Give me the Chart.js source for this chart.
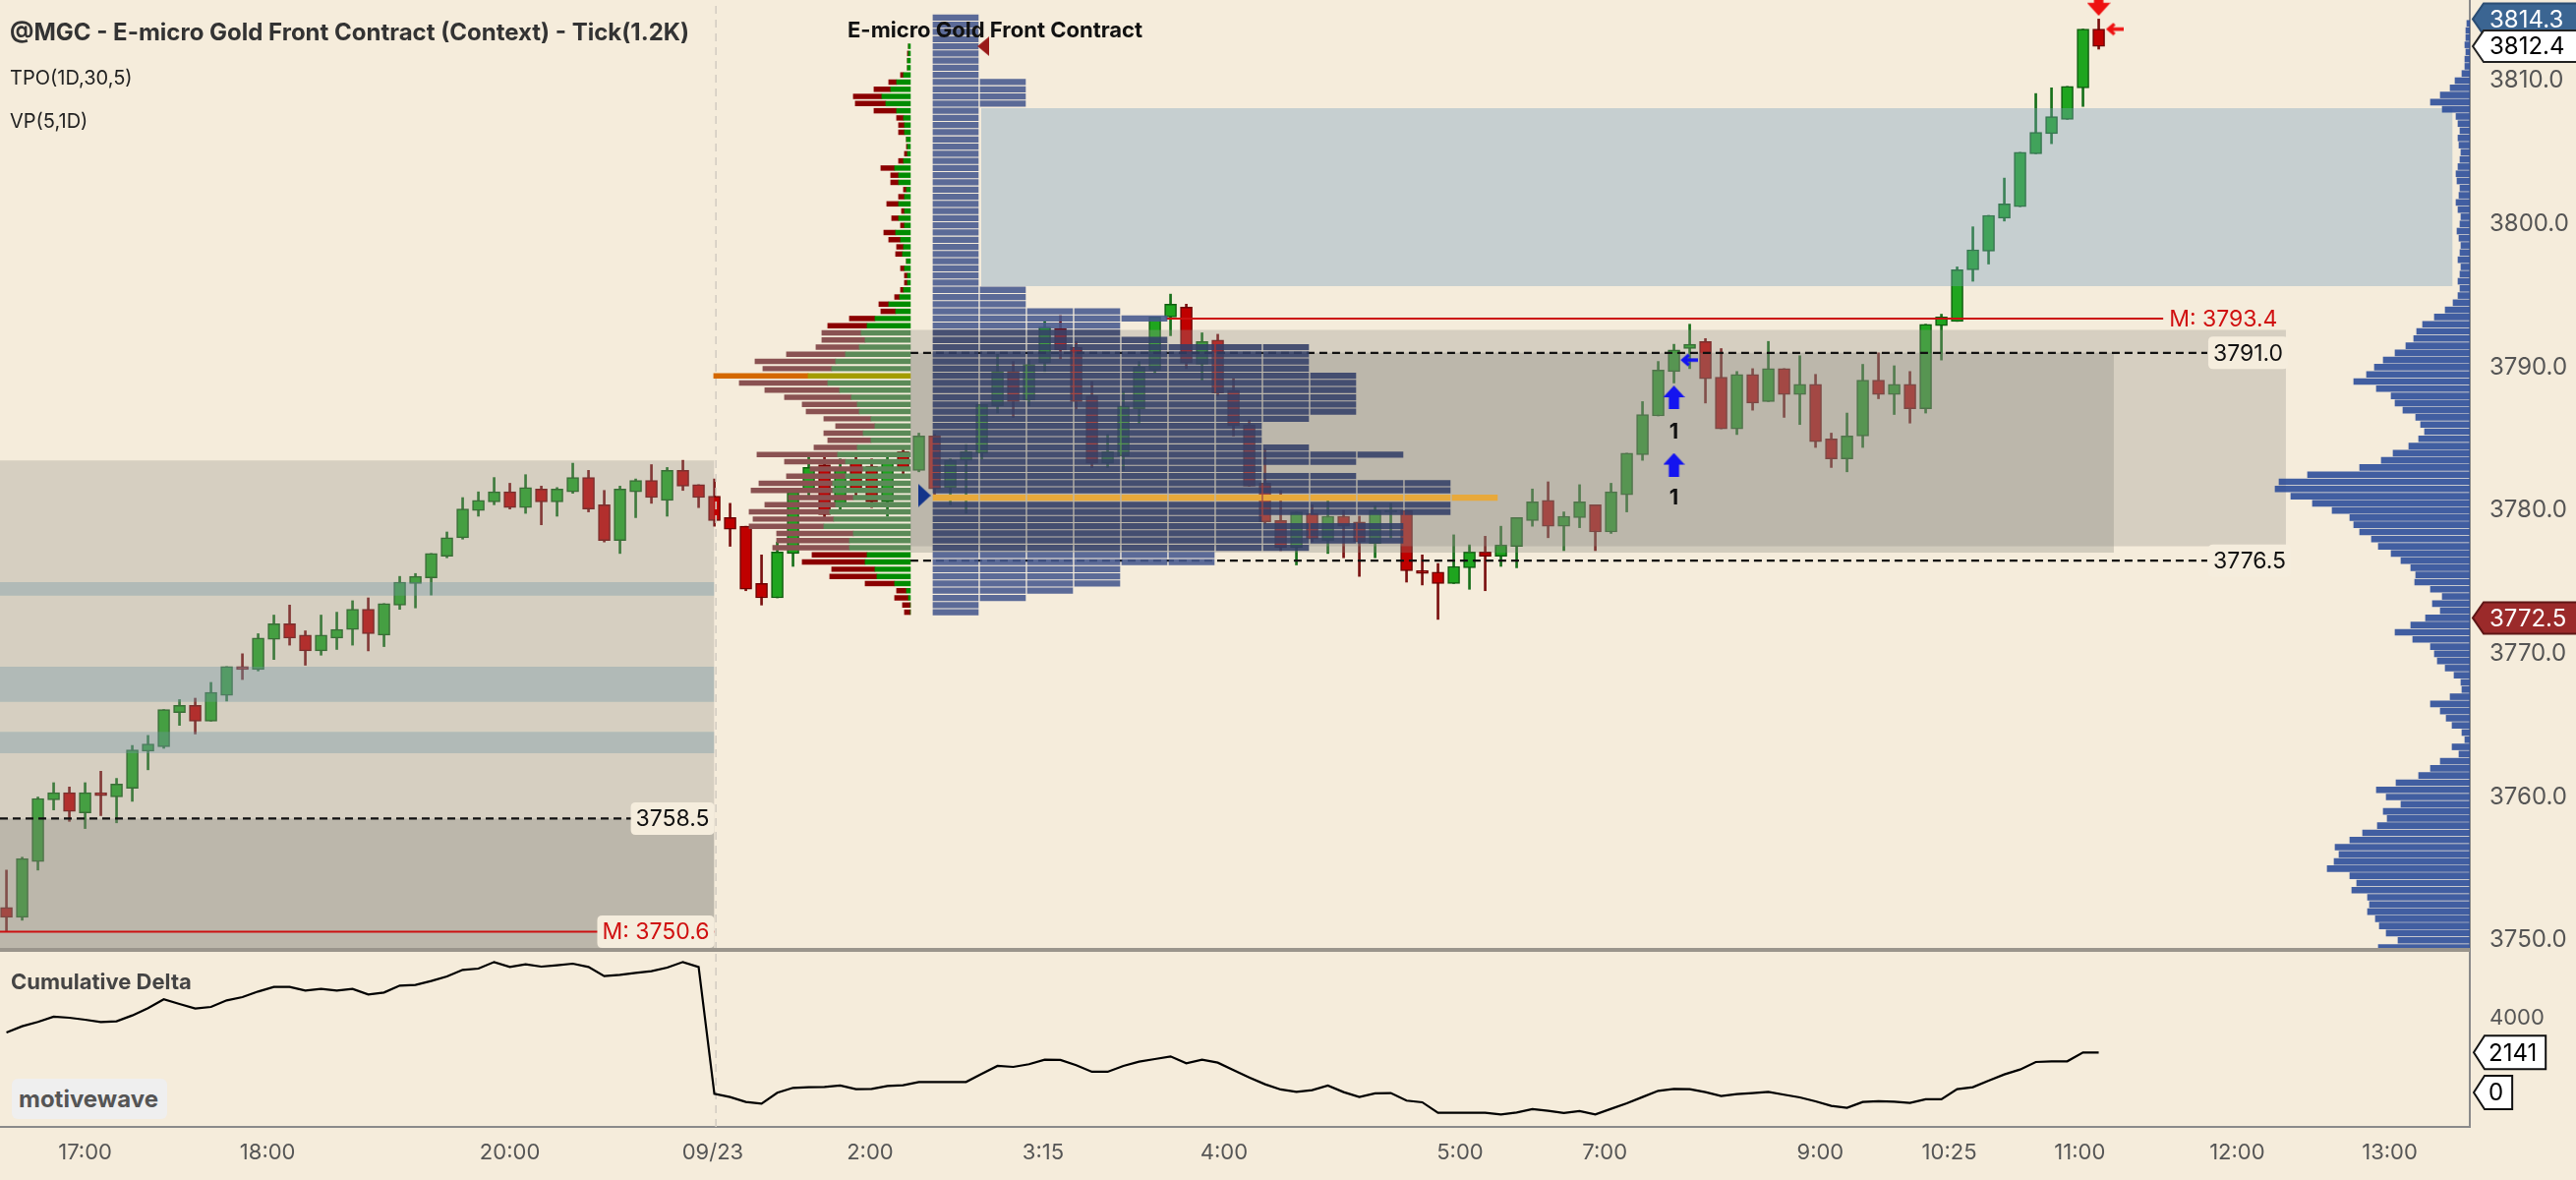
<!DOCTYPE html>
<html>
<head>
<meta charset="utf-8">
<title>@MGC - E-micro Gold Front Contract (Context) - Tick(1.2K)</title>
<script src="https://cdn.jsdelivr.net/npm/chart.js@4.4.1/dist/chart.umd.min.js"></script>
<style>
  html, body { margin:0; padding:0; }
  body { width:2620px; height:1200px; background:#f5ecdb; position:relative; overflow:hidden; font-family: Inter, "Noto Sans", sans-serif; }
  canvas { position:absolute; left:0; display:block; }
  #mainCanvas { top:0; }
  #deltaCanvas { top:966px; }
  .lbl { position:absolute; white-space:nowrap; line-height:1; }
  #title { left:10px; top:21px; font-size:24px; font-weight:700; color:#333; }
  #tpo { left:10px; top:69px; font-size:20px; color:#222; }
  #vp { left:10px; top:113px; font-size:20px; color:#222; }
  #inst { left:862px; top:19px; font-size:22px; font-weight:700; color:#111; }
  #cd { left:11px; top:987px; font-size:22px; font-weight:700; color:#444; }
  #mw { left:12px; top:1097px; width:158px; height:41px; background:#efefef; border-radius:6px; font-size:24px; font-weight:700; color:#555; display:flex; align-items:center; padding-left:7px; box-sizing:border-box; }
</style>
</head>
<body>
<canvas id="mainCanvas" width="2620" height="966"></canvas>
<canvas id="deltaCanvas" width="2620" height="234"></canvas>
<div class="lbl" id="title">@MGC - E-micro Gold Front Contract (Context) - Tick(1.2K)</div>
<div class="lbl" id="tpo">TPO(1D,30,5)</div>
<div class="lbl" id="vp">VP(5,1D)</div>
<div class="lbl" id="inst">E-micro Gold Front Contract</div>
<div class="lbl" id="cd">Cumulative Delta</div>
<div class="lbl" id="mw">motivewave</div>
<script>
// ===================== DATA =====================
const openP = [
3752.3,3751.6,3755.5,3759.8,3760.3,3758.9,3760.3,3760.0,3760.6,3763.2,
3763.5,3765.9,3766.4,3765.3,3767.1,3769.1,3768.9,3771.0,3772.1,3771.3,
3770.2,3771.1,3771.7,3773.1,3771.3,3773.4,3774.9,3775.3,3776.8,3778.1,
3780.0,3780.6,3781.3,3780.2,3781.5,3780.6,3781.3,3782.3,3780.4,3777.9,
3781.3,3782.1,3780.7,3782.8,3781.8,3781.0,3779.5,3778.9,3774.9,3773.9,
3777.0,3781.5,3783.2,3780.5,3783.5,3783.1,3780.6,3784.1,3782.8,3785.2,
3781.6,3783.5,3784.0,3787.3,3789.7,3787.7,3790.3,3792.7,3791.4,3788.0,
3783.3,3783.8,3787.1,3789.8,3793.5,3794.2,3790.2,3791.9,3788.4,3786.0,
3781.9,3779.3,3777.4,3779.8,3777.9,3779.6,3779.2,3777.7,3779.9,3780.0,
3775.8,3775.7,3774.9,3776.0,3777.1,3776.8,3777.5,3779.3,3780.7,3778.9,
3779.5,3780.4,3778.5,3781.1,3783.9,3786.6,3789.7,3791.3,3791.8,3789.3,
3785.7,3789.5,3787.6,3789.9,3788.1,3788.8,3785.0,3783.6,3785.2,3789.1,
3788.1,3788.8,3787.1,3792.9,3793.2,3796.8,3798.1,3800.4,3801.2,3804.9,
3806.3,3807.3,3809.5,3813.6];
const highP = [
3754.9,3755.8,3760.0,3761.0,3760.7,3761.0,3761.8,3761.3,3763.6,3764.3,
3766.1,3766.8,3766.9,3768.0,3769.1,3770.0,3771.4,3772.7,3773.4,3771.6,
3772.7,3772.9,3773.7,3773.9,3773.5,3775.4,3775.6,3777.0,3778.5,3780.9,
3781.3,3782.3,3781.9,3782.5,3781.7,3781.6,3783.3,3782.8,3781.4,3781.7,
3782.2,3783.2,3783.0,3783.5,3781.8,3782.2,3780.5,3778.9,3776.9,3777.8,
3781.5,3784.0,3783.8,3783.6,3783.9,3783.6,3784.0,3784.3,3785.4,3785.3,
3783.6,3784.6,3787.4,3790.9,3790.4,3790.5,3793.2,3793.6,3791.8,3789.0,
3785.3,3788.3,3790.4,3793.5,3795.1,3794.4,3792.4,3792.3,3789.2,3786.3,
3784.3,3781.4,3779.9,3780.4,3780.8,3780.0,3779.6,3780.3,3780.5,3780.0,
3776.9,3776.3,3778.3,3777.6,3778.2,3778.9,3779.5,3781.5,3782.0,3779.9,
3781.8,3780.4,3781.9,3784.0,3787.6,3790.4,3791.6,3793.0,3792.0,3791.3,
3789.7,3789.9,3791.8,3789.9,3790.8,3789.5,3785.4,3786.8,3790.2,3791.0,
3790.1,3789.7,3793.0,3793.7,3797.0,3799.8,3800.6,3803.2,3805.0,3809.1,
3809.5,3809.6,3813.6,3814.3];
const lowP = [
3750.6,3751.4,3754.9,3759.1,3758.3,3757.8,3758.7,3758.2,3759.7,3761.9,
3763.4,3765.0,3764.4,3765.3,3766.7,3768.2,3768.8,3769.6,3770.6,3769.2,
3769.9,3770.3,3770.6,3770.2,3770.5,3773.1,3773.2,3774.1,3776.7,3778.0,
3779.6,3780.4,3780.1,3779.8,3779.0,3779.6,3781.2,3779.9,3777.8,3777.0,
3779.5,3780.5,3779.6,3781.4,3780.2,3778.9,3777.5,3774.4,3773.4,3773.9,
3776.1,3781.0,3779.3,3780.0,3780.8,3780.2,3779.6,3782.5,3782.7,3781.1,
3780.4,3779.8,3783.6,3786.8,3786.5,3787.3,3789.7,3790.6,3787.1,3783.0,
3783.0,3782.8,3786.1,3789.6,3792.2,3789.9,3789.1,3788.0,3785.2,3781.7,
3779.1,3777.2,3776.2,3777.8,3777.0,3776.7,3775.4,3776.7,3778.1,3775.0,
3774.8,3772.4,3774.9,3774.5,3774.4,3776.1,3776.0,3778.9,3778.1,3777.2,
3778.8,3777.2,3778.4,3779.9,3783.5,3786.6,3788.9,3789.9,3787.5,3785.7,
3785.3,3787.0,3787.6,3786.5,3786.0,3784.4,3783.0,3782.7,3784.4,3787.8,
3786.7,3786.1,3786.8,3790.5,3793.2,3796.0,3797.2,3800.2,3801.2,3804.9,
3805.6,3807.3,3808.2,3812.2];
const closeP = [
3751.6,3755.7,3759.9,3760.3,3759.0,3760.3,3760.1,3760.9,3763.3,3763.7,
3766.1,3766.4,3765.3,3767.3,3769.1,3768.9,3771.1,3772.1,3771.1,3770.2,
3771.3,3771.7,3773.1,3771.4,3773.5,3775.0,3775.4,3777.0,3778.1,3780.1,
3780.7,3781.3,3780.2,3781.6,3780.6,3781.5,3782.3,3780.1,3777.9,3781.5,
3782.1,3780.9,3782.8,3781.7,3780.9,3779.3,3778.7,3774.5,3773.9,3777.1,
3781.3,3783.0,3779.7,3783.0,3781.3,3780.6,3783.5,3783.0,3785.2,3781.5,
3783.5,3784.1,3787.4,3789.7,3787.6,3790.2,3792.8,3791.2,3787.6,3783.3,
3784.1,3787.3,3790.0,3793.5,3794.4,3790.3,3791.8,3788.2,3785.9,3781.7,
3779.2,3777.4,3779.9,3778.0,3779.6,3778.9,3777.8,3780.0,3780.0,3775.8,
3775.6,3774.9,3776.1,3777.1,3776.8,3777.6,3779.5,3780.6,3778.9,3779.6,
3780.6,3778.5,3781.3,3784.0,3786.7,3789.8,3791.2,3791.6,3789.2,3785.7,
3789.5,3787.5,3789.9,3788.1,3788.8,3784.8,3783.6,3785.2,3789.1,3788.1,
3788.8,3787.1,3793.0,3793.5,3796.8,3798.2,3800.6,3801.4,3805.0,3806.4,
3807.5,3809.6,3813.6,3812.4];
const cumDelta = [
3212,3545,3773,4054,4001,3896,3773,3808,4124,4510,
4984,4738,4492,4580,4931,5106,5404,5650,5650,5457,
5545,5457,5545,5247,5352,5720,5755,5966,6211,6562,
6632,6983,6720,6860,6737,6808,6895,6720,6229,6299,
6404,6492,6685,6983,6720,-68,-243,-506,-594,-15,
248,283,300,370,178,195,353,388,563,563,
563,563,1002,1423,1370,1511,1756,1739,1458,1107,
1107,1423,1651,1791,1932,1563,1756,1598,1195,809,
441,160,37,125,370,20,-243,-50,-33,-436,
-524,-1085,-1085,-1085,-1085,-1173,-1068,-893,-980,-1103,
-998,-1173,-875,-577,-243,90,195,178,20,-191,
-85,-33,37,-120,-261,-471,-717,-822,-506,-471,
-489,-559,-366,-366,178,283,633,967,1230,1633,
1668,1668,2141,2141];

const timeTickIdx = [5.0,16.6,32.0,44.9,54.9,65.9,77.4,92.4,101.6,115.3,123.5,131.8,141.8,151.5];
const timeTickLabels = ['17:00','18:00','20:00','09/23','2:00','3:15','4:00','5:00','7:00','9:00','10:25','11:00','12:00','13:00'];
const priceTicks = [3750,3760,3770,3780,3790,3800,3810];
const deltaTicks = [4000];

// session delta (buy/sell) volume profile, rows from dpStart every dpStep
const dpStart = 3772.9, dpStep = 0.5;
const dpBuy = [
0,0,2,4,16,34,36,46,44,62,
62,58,88,78,82,76,58,79,79,66,
48,66,74,54,40,48,36,40,52,54,
60,72,84,104,80,76,66,52,46,50,
44,36,15,22,11,7,3,3,6,4,
8,7,10,15,6,12,6,12,6,4,
12,12,16,7,3,3,4,6,6,7,
14,25,29,20,14,7,3,3,2,2];
const dpSell = [
6,8,14,10,30,48,44,64,56,78,
74,78,76,82,82,72,66,83,75,60,
54,62,82,44,44,40,40,48,54,56,
68,76,90,96,70,82,60,44,44,40,
40,26,15,10,5,3,3,3,4,0,
7,7,12,12,4,7,3,12,6,3,
8,8,14,5,3,1,0,6,6,7,
23,31,29,17,8,3,0,0,1,0];
const dpPOC = 3789.4;
const dpVA = [3777.4, 3792.4];

// TPO profile: number of 30-min periods per row
const tpoStart = 3772.9, tpoStep = 0.5;
const tpoCount = [
1,1,2,3,4,4,4,6,6,8,
10,10,10,7,11,11,12,11,11,9,
7,9,10,8,7,7,7,8,9,9,
9,9,9,9,8,8,8,8,5,4,
4,5,4,2,2,2,1,1,1,1,
1,1,1,1,1,1,1,1,1,1,
1,1,1,1,1,1,1,1,1,1,
1,2,2,2,2,1,1,1,1,1,
1,1,1,1];
const tpoPOC = 3780.9;
const tpoVA = [3777.4, 3792.4];

// multi-day volume profile on the right edge
const vpStart = 3749.5, vpStep = 0.5;
const vpVol = [
93,73,85,92,96,104,102,104,120,115,
122,145,138,133,137,122,109,94,84,88,
70,85,95,75,52,40,30,11,18,5,
8,18,24,30,40,20,8,9,16,25,
33,36,40,58,76,60,45,30,38,28,
40,56,55,60,70,80,93,100,112,118,
122,140,160,182,198,194,165,112,90,78,
62,52,46,50,55,68,76,80,95,118,
105,97,88,76,65,57,54,48,36,25,
17,12,10,12,10,9,12,10,9,11,
13,10,9,12,14,11,10,13,14,12,
10,9,11,12,10,12,14,28,40,30,
20,15,8,5,5,4,5,4,4,3];

// shaded zones (bar index range, price range)
const zoneX0   = [-0.41,-0.41,-0.41,-0.41,-0.41, 57.46, 57.46, 61.96];
const zoneX1   = [45.0, 45.0, 45.0, 45.0, 45.0, 144.9, 133.96, 155.5];
const zoneLow  = [3749.0,3749.0,3774.05,3766.65,3763.05,3777.5,3777.05,3795.65];
const zoneHigh = [3783.5,3758.5,3775.0,3769.1,3764.55,3792.6,3791.0,3808.08];
const zoneKind = ['va','ib','band','band','band','va','ib','hband'];

// horizontal levels
const levelPrice = [3758.5, 3750.6, 3791.0, 3776.5, 3793.4];
const levelText  = ['3758.5','M: 3750.6','3791.0','3776.5','M: 3793.4'];
const levelFrom  = [-0.41, -0.41, 57.46, 57.46, 73.7];
const levelTo    = [45.0, 45.0, 139.9, 139.9, 137.1];
const levelKind  = ['dash','mid','dash','dash','mid'];

// markers and signals
const sigX    = [106, 106, 106.95, 133, 134.0, 62.1, 58.35];
const sigY    = [3787.9, 3783.2, 3790.5, 3815.35, 3813.6, 3812.4, 3781.05];
const sigKind = ['blueUp','blueUp','blueLeft','redDown','redLeft','triLeft','triRight'];
const sigTextX = [106, 106];
const sigTextY = [3785.5, 3780.9];
const sigText  = ['1', '1'];

// right axis value tags
const axisTagVal  = [3814.3, 3812.4, 3772.5];
const axisTagKind = ['blue', 'white', 'red'];
const deltaTagVal = [2141, 0];

// ===================== CHART =====================
Chart.defaults.font.family = "Inter, 'Noto Sans', sans-serif";
Chart.defaults.animation = false;

const xMin = -0.41, xMax = 156.59;
const yMin = 3749.33, yMax = 3815.63;
const dMin = -1842, dMax = 7632;
const sessionBreak = 45.1;
const volToBars = 1 / 16;
const dpAnchor = 57.46, vpAnchor = 156.59;
const tpoX0 = 58.9, tpoColW = 2.875, tpoPitch = 3;

const up = i => closeP[i] >= openP[i];
const near = (a, b) => Math.abs(a - b) < 0.01;
const inRange = (p, r) => p >= r[0] - 0.01 && p <= r[1] + 0.01;

const wickData = openP.map((o, i) => ({x: i, y: [lowP[i], highP[i]]}));
const bodyData = openP.map((o, i) => ({x: i, y: [o, closeP[i]]}));

const zoneColors = {
  va: 'rgba(150,145,140,0.32)',
  ib: 'rgba(130,128,120,0.31)',
  band: 'rgba(110,150,165,0.37)',
  hband: 'rgba(120,160,190,0.38)'
};
const zoneOrder = {va: 24, ib: 23, band: 22, hband: 22};
const zoneSets = zoneKind.map((k, i) => ({
  type: 'line',
  data: [{x: zoneX0[i], y: zoneHigh[i]}, {x: zoneX1[i], y: zoneHigh[i]}],
  fill: {value: zoneLow[i]},
  backgroundColor: zoneColors[k],
  borderWidth: 0, pointRadius: 0, order: zoneOrder[k]
}));

const levelSets = levelPrice.map((p, i) => ({
  type: 'line',
  data: [{x: levelFrom[i], y: p}, {x: levelTo[i], y: p}],
  borderColor: levelKind[i] === 'mid' ? '#cc1010' : '#111',
  borderWidth: levelKind[i] === 'mid' ? 2 : 2.4,
  borderDash: levelKind[i] === 'mid' ? [] : [8, 5],
  pointRadius: 0, fill: false, order: 12
}));

// TPO boxes
const tpoData = [], tpoColors = [];
tpoCount.forEach((c, m) => {
  const p = +(tpoStart + m * tpoStep).toFixed(2);
  for (let j = 0; j < c; j++) {
    tpoData.push({y: p, x: [tpoX0 + j * tpoPitch, tpoX0 + j * tpoPitch + tpoColW]});
    tpoColors.push(near(p, tpoPOC) ? '#e8a93b' : (inRange(p, tpoVA) ? 'rgba(50,63,104,0.88)' : 'rgba(69,88,141,0.88)'));
  }
});

// delta profile
const dpBuyData = [], dpSellData = [], dpBuyCol = [], dpSellCol = [];
dpBuy.forEach((b, k) => {
  const p = +(dpStart + k * dpStep).toFixed(2);
  const s = dpSell[k];
  dpBuyData.push({y: p, x: [dpAnchor - b * volToBars, dpAnchor]});
  dpSellData.push({y: p, x: [dpAnchor - (b + s) * volToBars, dpAnchor - b * volToBars]});
  if (near(p, dpPOC)) { dpBuyCol.push('#a49c00'); dpSellCol.push('#d46800'); }
  else if (inRange(p, dpVA)) { dpBuyCol.push('#5b8a58'); dpSellCol.push('#8a5252'); }
  else { dpBuyCol.push('#008c00'); dpSellCol.push('#8b0000'); }
});

const vpData = vpVol.map((v, i) => ({y: +(vpStart + i * vpStep).toFixed(2), x: [vpAnchor - v * volToBars, vpAnchor]}));

// marker icons
function polyIcon(w, h, color, pts) {
  const c = document.createElement('canvas'); c.width = w; c.height = h;
  const g = c.getContext('2d'); g.fillStyle = color; g.beginPath();
  pts.forEach(([px, py], i) => i ? g.lineTo(px * w, py * h) : g.moveTo(px * w, py * h));
  g.closePath(); g.fill();
  return c;
}
function arrowLeftIcon(w, h, color) {
  const c = document.createElement('canvas'); c.width = w; c.height = h;
  const g = c.getContext('2d'); g.strokeStyle = color; g.lineWidth = 3.4; g.lineJoin = 'miter';
  g.beginPath(); g.moveTo(w, h / 2); g.lineTo(3, h / 2);
  g.moveTo(w * 0.5, 1.8); g.lineTo(3, h / 2); g.lineTo(w * 0.5, h - 1.8); g.stroke();
  return c;
}
const icons = {
  blueUp: polyIcon(22, 24, '#1414f0', [[0.5,0],[1,0.5],[0.74,0.5],[0.74,1],[0.26,1],[0.26,0.5],[0,0.5]]),
  blueLeft: arrowLeftIcon(18, 14, '#1414f0'),
  redDown: polyIcon(24, 24, '#ee1111', [[0.3,0],[0.7,0],[0.7,0.45],[1,0.45],[0.5,1],[0,0.45],[0.3,0.45]]),
  redLeft: arrowLeftIcon(18, 14, '#ee1111'),
  triLeft: polyIcon(12, 20, '#9a1a1a', [[0,0.5],[1,0],[1,1]]),
  triRight: polyIcon(13, 24, '#14358a', [[1,0.5],[0,0],[0,1]])
};

function roundRect(ctx, x, y, w, h, r) {
  ctx.beginPath();
  ctx.moveTo(x + r, y); ctx.lineTo(x + w - r, y); ctx.quadraticCurveTo(x + w, y, x + w, y + r);
  ctx.lineTo(x + w, y + h - r); ctx.quadraticCurveTo(x + w, y + h, x + w - r, y + h);
  ctx.lineTo(x + r, y + h); ctx.quadraticCurveTo(x, y + h, x, y + h - r);
  ctx.lineTo(x, y + r); ctx.quadraticCurveTo(x, y, x + r, y); ctx.closePath();
}
function tag(ctx, x0, x1, cy, h, fill, stroke, text, color, tx) {
  ctx.beginPath();
  ctx.moveTo(x0, cy); ctx.lineTo(x0 + 11, cy - h / 2); ctx.lineTo(x1, cy - h / 2);
  ctx.lineTo(x1, cy + h / 2); ctx.lineTo(x0 + 11, cy + h / 2); ctx.closePath();
  ctx.fillStyle = fill; ctx.fill();
  if (stroke) { ctx.strokeStyle = stroke; ctx.lineWidth = 2; ctx.stroke(); }
  ctx.fillStyle = color; ctx.textAlign = 'left'; ctx.textBaseline = 'middle';
  ctx.fillText(text, tx, cy + 1);
}

const mainLabels = {
  id: 'mainLabels',
  afterDraw(chart) {
    const {ctx, scales: {x, y}, chartArea} = chart;
    ctx.save();
    // level labels
    ctx.font = '23px Inter';
    levelPrice.forEach((p, i) => {
      const py = y.getPixelForValue(p);
      const txt = levelText[i];
      const tw = ctx.measureText(txt).width;
      const red = levelKind[i] === 'mid';
      const leftSession = levelTo[i] < sessionBreak;
      const w = tw + 10, h = 33;
      const bx = leftSession ? x.getPixelForValue(levelTo[i]) - w : x.getPixelForValue(levelTo[i]) + 1;
      if (!(red && !leftSession)) {
        ctx.fillStyle = '#f5eddd';
        roundRect(ctx, bx, py - h / 2, w, h, 5); ctx.fill();
      }
      ctx.fillStyle = red ? '#d01010' : '#111';
      ctx.textAlign = 'left'; ctx.textBaseline = 'middle';
      ctx.fillText(txt, bx + 5, py + 1);
    });
    // signal counts
    ctx.font = 'bold 22px Inter';
    ctx.fillStyle = '#111'; ctx.textAlign = 'center'; ctx.textBaseline = 'middle';
    sigText.forEach((t, i) => ctx.fillText(t, x.getPixelForValue(sigTextX[i]), y.getPixelForValue(sigTextY[i])));
    // bottom separator
    ctx.strokeStyle = '#9a958c'; ctx.lineWidth = 2;
    ctx.beginPath(); ctx.moveTo(0, chartArea.bottom - 1); ctx.lineTo(chartArea.right, chartArea.bottom - 1); ctx.stroke();
    // right axis tags
    ctx.font = '24px Inter';
    const styles = {
      blue: ['#3b6592', '#2b4d73', '#ffffff'],
      white: ['#ffffff', '#222222', '#000000'],
      red: ['#9b2a2a', '#5e1616', '#ffffff']
    };
    axisTagVal.forEach((v, i) => {
      const s = styles[axisTagKind[i]];
      tag(ctx, chartArea.right + 3, chart.width + 4, y.getPixelForValue(v), 32, s[0], s[1], v.toFixed(1), s[2], chartArea.right + 20);
    });
    ctx.restore();
  }
};

const vFit = w => s => { s.width = w; s.paddingTop = 0; s.paddingBottom = 0; s.paddingLeft = 0; s.paddingRight = 0; };
const hFit = h => s => { s.height = h; s.paddingTop = 0; s.paddingBottom = 0; s.paddingLeft = 0; s.paddingRight = 0; };

new Chart(document.getElementById('mainCanvas'), {
  type: 'bar',
  data: {
    datasets: [
      {type: 'scatter', data: sigX.map((v, i) => ({x: v, y: sigY[i]})),
       pointStyle: c => icons[sigKind[c.dataIndex]], pointRadius: 6, order: 1, clip: false},
      {type: 'bar', indexAxis: 'y', data: dpBuyData, backgroundColor: dpBuyCol, barThickness: 4.8, grouped: false, borderWidth: 0, order: 5},
      {type: 'bar', indexAxis: 'y', data: dpSellData, backgroundColor: dpSellCol, barThickness: 4.8, grouped: false, borderWidth: 0, order: 5},
      {type: 'bar', indexAxis: 'y', data: vpData, backgroundColor: 'rgba(40,74,152,0.88)', barThickness: 6, grouped: false, borderWidth: 0, order: 5},
      {type: 'bar', indexAxis: 'y', data: tpoData, backgroundColor: tpoColors, barThickness: 5.6, grouped: false, borderWidth: 0, order: 8},
      ...levelSets,
      {type: 'line', data: [{x: sessionBreak, y: yMin}, {x: sessionBreak, y: yMax}], borderColor: '#d4cec3', borderWidth: 1.6, borderDash: [8, 6], pointRadius: 0, fill: false, order: 15},
      ...zoneSets,
      {type: 'bar', data: bodyData, grouped: false, barThickness: 12, borderSkipped: false, borderWidth: 1.5,
       backgroundColor: bodyData.map((d, i) => up(i) ? '#1fa51f' : '#c00000'),
       borderColor: bodyData.map((d, i) => up(i) ? '#0f5c0f' : '#6e0000'), order: 30},
      {type: 'bar', data: wickData, grouped: false, barThickness: 2, borderWidth: 0,
       backgroundColor: wickData.map((d, i) => up(i) ? '#17701a' : '#7a1010'), order: 31}
    ]
  },
  options: {
    responsive: false, maintainAspectRatio: false, devicePixelRatio: 1, events: [],
    layout: {padding: 0, autoPadding: false},
    plugins: {legend: {display: false}, tooltip: {enabled: false}},
    scales: {
      x: {type: 'linear', min: xMin, max: xMax, bounds: 'data', offset: false, display: false, grid: {offset: false}},
      y: {type: 'linear', position: 'right', min: yMin, max: yMax, bounds: 'data', offset: false,
          afterFit: vFit(108),
          afterBuildTicks: s => { s.ticks = priceTicks.map(v => ({value: v})); },
          ticks: {callback: v => Number(v).toFixed(1), color: '#555', font: {size: 24}, padding: 20, autoSkip: false},
          grid: {display: false, drawTicks: false, offset: false},
          border: {display: true, color: '#8a8a8a', width: 2}}
    }
  },
  plugins: [mainLabels]
});

const deltaLabels = {
  id: 'deltaLabels',
  afterDraw(chart) {
    const {ctx, scales: {y}, chartArea} = chart;
    ctx.save();
    ctx.strokeStyle = '#9a958c'; ctx.lineWidth = 2;
    ctx.beginPath(); ctx.moveTo(0, 1); ctx.lineTo(chartArea.right, 1); ctx.stroke();
    ctx.font = '24px Inter';
    deltaTagVal.forEach(v => {
      const t = String(v);
      const tw = ctx.measureText(t).width;
      tag(ctx, chartArea.right + 4, chartArea.right + 20 + tw + 8, y.getPixelForValue(v), 34, '#ffffff', '#111111', t, '#000', chartArea.right + 19);
    });
    ctx.restore();
  }
};

new Chart(document.getElementById('deltaCanvas'), {
  type: 'line',
  data: {
    datasets: [
      {data: cumDelta.map((v, i) => ({x: i, y: v})), borderColor: '#000', borderWidth: 2.2, pointRadius: 0, tension: 0, fill: false, order: 1},
      {data: [{x: sessionBreak, y: dMin}, {x: sessionBreak, y: dMax}], borderColor: '#d4cec3', borderWidth: 1.6, borderDash: [8, 6], pointRadius: 0, fill: false, order: 2}
    ]
  },
  options: {
    responsive: false, maintainAspectRatio: false, devicePixelRatio: 1, events: [],
    layout: {padding: 0, autoPadding: false},
    plugins: {legend: {display: false}, tooltip: {enabled: false}},
    scales: {
      x: {type: 'linear', min: xMin, max: xMax, bounds: 'data', offset: false, position: 'bottom',
          afterFit: hFit(54),
          afterBuildTicks: s => { s.ticks = timeTickIdx.map(v => ({value: v})); },
          ticks: {callback: (v, i) => timeTickLabels[i], color: '#555', font: {size: 22}, padding: 13, autoSkip: false, maxRotation: 0, minRotation: 0},
          grid: {display: false, drawTicks: false, offset: false},
          border: {display: true, color: '#8a8a8a', width: 2}},
      y: {type: 'linear', position: 'right', min: dMin, max: dMax, bounds: 'data', offset: false,
          afterFit: vFit(108),
          afterBuildTicks: s => { s.ticks = deltaTicks.map(v => ({value: v})); },
          ticks: {callback: v => String(v), color: '#555', font: {size: 22}, padding: 20, autoSkip: false},
          grid: {display: false, drawTicks: false, offset: false},
          border: {display: true, color: '#8a8a8a', width: 2}}
    }
  },
  plugins: [deltaLabels]
});
</script>
</body>
</html>
